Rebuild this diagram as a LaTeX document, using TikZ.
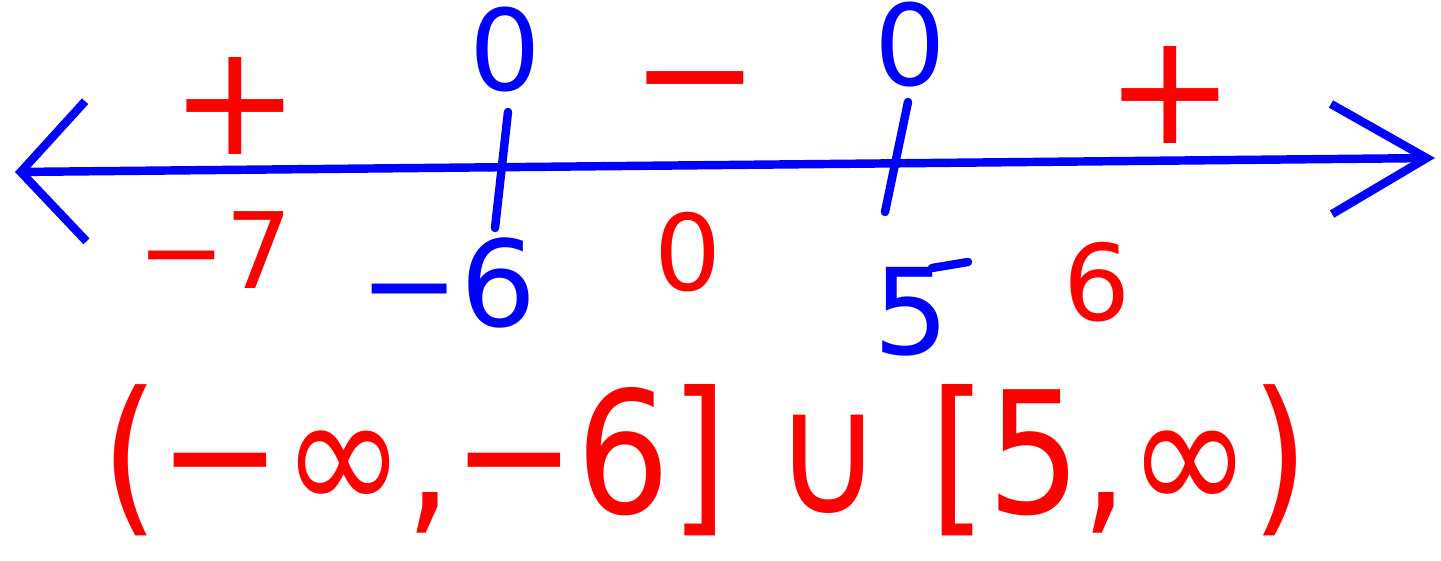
\documentclass[tikz,border=0pt]{standalone}
\usepackage{fontspec}
\setmainfont{DejaVu Sans}
\usetikzlibrary{arrows.meta,positioning}
\definecolor{nlBlue}{HTML}{0000FF}
\definecolor{nlRed}{HTML}{FF0000}
\tikzset{
  pen/.style={line width=2.4pt, line cap=round, line join=round},
  numline/.style={pen, draw=nlBlue},
  tickmark/.style={pen, draw=nlBlue},
  crit/.style={text=nlBlue, inner sep=0pt, font=\fontsize{32}{36}\selectfont},
  critlbl/.style={text=nlBlue, inner sep=0pt, font=\fontsize{34}{40}\selectfont},
  testpt/.style={text=nlRed, inner sep=0pt, font=\fontsize{30}{34}\selectfont},
  signmark/.style={text=nlRed, inner sep=0pt, anchor=base, text height=28pt, text depth=0pt,
    font=\fontsize{44}{48}\selectfont},
  answer/.style={text=nlRed, inner sep=0pt, font=\fontsize{42}{50}\selectfont}
}
\begin{document}
\begin{tikzpicture}[x=0.01cm, y=-0.01cm]
  \useasboundingbox (0,0) rectangle (1441,560);
  % number line
  \coordinate (lend) at (15,172);
  \coordinate (rend) at (1435,158);
  \draw[numline, {Straight Barb[length=6.5mm, width=14mm]}-{Straight Barb[length=9.5mm, width=11mm]}] (lend) -- (rend);
  % critical points
  \coordinate (tA1) at (508,112);
  \coordinate (tA2) at (495,228);
  \coordinate (tB1) at (908,102);
  \coordinate (tB2) at (885,212);
  \draw[tickmark] (tA1) -- (tA2);
  \draw[tickmark] (tB1) -- (tB2);
  \node[crit] (zeroA) at (505,50) {0};
  \node[crit] (zeroB) at (910,45) {0};
  \node[critlbl] (labA) at (448,283) {−6};
  \node[critlbl] (labB) at (912,312) {5};
  \coordinate (fA) at (932,268);
  \coordinate (fB) at (968,262);
  \draw[tickmark] (fA) -- (fB);
  % signs
  \node[signmark] (signL) at (235,154) {+};
  \node[signmark] (signM) at (695,126) {−};
  \node[signmark] (signR) at (1170,143) {+};
  % test points
  \node[testpt] (testL) at (215,250) {−7};
  \node[testpt] (testM) at (688,252) {0};
  \node[testpt] (testR) at (1097,282) {6};
  % solution
  \node[answer] (sol) at (705,460) {\scalebox{1}[1.15]{(−∞,−6] ∪ [5,∞)}};
\end{tikzpicture}
\end{document}
